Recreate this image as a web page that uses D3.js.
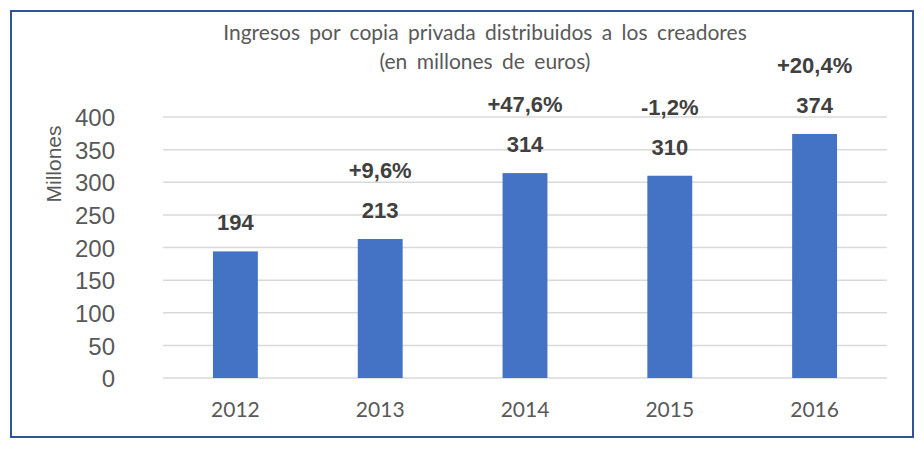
<!DOCTYPE html>
<html><head><meta charset="utf-8">
<script src="https://cdn.jsdelivr.net/npm/d3@7"></script>
<style>body{margin:0;background:#fff}svg{display:block}</style>
</head><body>
<svg id="c" width="924" height="452"></svg>
<script>
const years = ["2012","2013","2014","2015","2016"];
const values = [194, 213, 314, 310, 374];
const changes = ["", "+9,6%", "+47,6%", "-1,2%", "+20,4%"];
const yTicks = [0,50,100,150,200,250,300,350,400];
const titleLines = ["Ingresos por copia privada distribuidos a los creadores", "(en millones de euros)"];
const yLabel = "Millones";

const svg = d3.select("#c");
svg.append("rect").attr("x",11).attr("y",11).attr("width",902).attr("height",426)
  .attr("fill","#fff").attr("stroke","#2F5597").attr("stroke-width",2);

const x = d3.scaleBand().domain(years).range([163,887]).paddingInner(0.69).paddingOuter(0.345);
const y = d3.scaleLinear().domain([0,400]).range([378,117]);

// grid
svg.append("g").selectAll("line").data(yTicks).join("line")
  .attr("x1",163).attr("x2",887).attr("y1",d=>y(d)).attr("y2",d=>y(d))
  .attr("stroke","#d9d9d9").attr("stroke-width",1.5);

// y axis labels
const ya = svg.append("g").attr("transform","translate(115,0)")
  .call(d3.axisLeft(y).tickValues(yTicks).tickSize(0).tickPadding(0));
ya.select(".domain").remove();
ya.selectAll("text").attr("font-family","Liberation Sans, Arial, sans-serif")
  .attr("font-size",24).attr("fill","#595959").attr("dy","0.36em");

// x axis labels
const xa = svg.append("g").attr("transform","translate(0,378)")
  .call(d3.axisBottom(x).tickSize(0).tickPadding(0));
xa.select(".domain").remove();
xa.selectAll("text").attr("font-family","Lato, Open Sans, sans-serif")
  .attr("font-size",21).attr("fill","#595959").attr("dy","1.85em");

// bars
svg.append("g").selectAll("rect").data(values).join("rect")
  .attr("x",(d,i)=>x(years[i])).attr("width",x.bandwidth())
  .attr("y",d=>y(d)).attr("height",d=>y(0)-y(d)).attr("fill","#4472C4");

// value labels
svg.append("g").selectAll("text").data(values).join("text")
  .attr("x",(d,i)=>x(years[i])+x.bandwidth()/2).attr("y",d=>y(d)-29+8)
  .attr("text-anchor","middle").attr("font-family","Liberation Sans, Arial, sans-serif")
  .attr("font-weight","bold").attr("font-size",22).attr("fill","#404040").text(d=>d);

svg.append("g").selectAll("text").data(changes).join("text")
  .attr("x",(d,i)=>x(years[i])+x.bandwidth()/2).attr("y",(d,i)=>y(values[i])-69+8)
  .attr("text-anchor","middle").attr("font-family","Liberation Sans, Arial, sans-serif")
  .attr("font-weight","bold").attr("font-size",22).attr("fill","#404040").text(d=>d);

// title
svg.append("g").selectAll("text").data(titleLines).join("text")
  .attr("x",485).attr("y",(d,i)=>40+i*29).attr("text-anchor","middle")
  .attr("font-family","Lato, Open Sans, sans-serif").attr("font-size",21)
  .attr("fill","#595959").attr("word-spacing",4).text(d=>d);

// y label
svg.append("text").attr("transform","translate(61,164) rotate(-90)")
  .attr("text-anchor","middle").attr("font-family","Liberation Sans, Arial, sans-serif")
  .attr("font-size",21).attr("fill","#595959").text(yLabel);
</script>
</body></html>
